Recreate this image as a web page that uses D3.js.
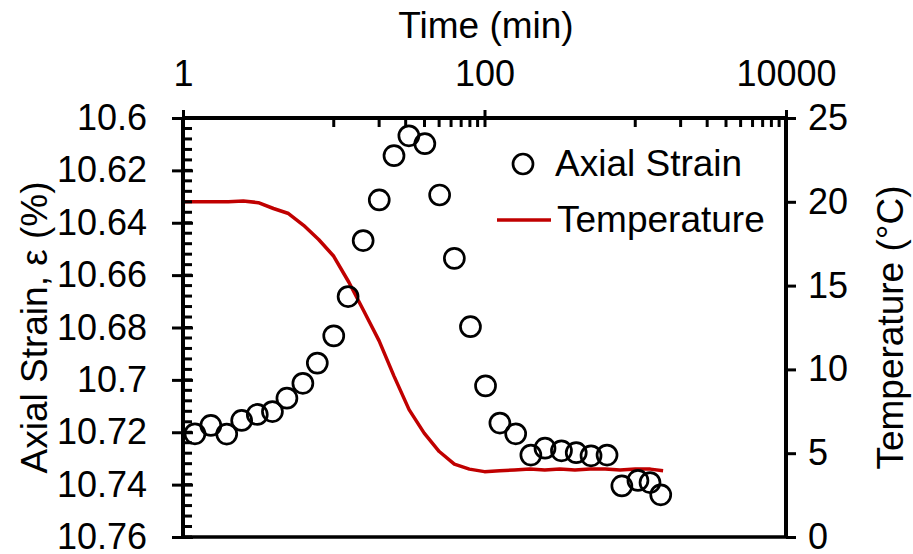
<!DOCTYPE html>
<html>
<head>
<meta charset="utf-8">
<script src="https://cdn.jsdelivr.net/npm/d3@7"></script>
<style>
  html, body { margin: 0; padding: 0; background: #ffffff; }
  svg { display: block; }
  text { font-family: Arial, "Liberation Sans", sans-serif; fill: #000; }
</style>
</head>
<body>
<svg id="chart" width="913" height="554"></svg>
<script>
// Axial strain readings (time in minutes, strain in %)
const strainTime = [1.20, 1.53, 1.95, 2.45, 3.11, 3.92, 4.89, 6.24, 7.78, 10.0,
  12.45, 15.67, 20.04, 25.1, 31.5, 40.2, 50.4, 63.1, 80.7, 101.6,
  126.5, 161, 203, 252, 324, 406, 509, 650, 815, 1042, 1253, 1476];
const strainValue = [10.7206, 10.7174, 10.7207, 10.7155, 10.7132, 10.7121, 10.7070, 10.7013, 10.6936, 10.6832,
  10.6682, 10.6468, 10.6313, 10.6144, 10.6068, 10.6098, 10.6294, 10.6536, 10.6797, 10.7023,
  10.7165, 10.7206, 10.7287, 10.7261, 10.7271, 10.7278, 10.7290, 10.7287, 10.7405, 10.7384, 10.7392, 10.7439];

// Temperature record (time in minutes, °C)
const tempTime = [1, 1.26, 1.58, 2, 2.51, 3.16, 3.98, 5.01, 6.31, 7.94,
  10, 12.6, 15.8, 20, 25.1, 31.6, 39.8, 50.1, 63.1, 79.4,
  100, 126, 158, 200, 251, 316, 398, 501, 631, 794, 1000, 1259, 1530];
const tempValue = [20.0, 20.0, 20.0, 20.0, 20.05, 19.95, 19.6, 19.3, 18.6, 17.75,
  16.75, 15.2, 13.5, 11.7, 9.6, 7.6, 6.2, 5.1, 4.35, 4.05,
  3.9, 3.95, 4.0, 4.05, 4.0, 4.05, 4.0, 4.05, 4.05, 4.0, 4.05, 4.05, 3.95];

// Axis ticks
const timeMajor = [1, 100, 10000];
const timeMinor = [10, 20, 30, 40, 50, 60, 70, 80, 90, 1000, 2000, 3000, 4000, 5000, 6000, 7000, 8000, 9000];
const strainTicks = [10.6, 10.62, 10.64, 10.66, 10.68, 10.7, 10.72, 10.74, 10.76];
const tempTicks = [0, 5, 10, 15, 20, 25];

const svg = d3.select("#chart");
const plotL = 183, plotR = 786, plotT = 118, plotB = 537;
const fsTick = 36;
const fsTitle = 37;
const font = "Arial, 'Liberation Sans', sans-serif";

const x = d3.scaleLog().domain([1, 10000]).range([plotL, plotR]);
const yS = d3.scaleLinear().domain([10.6, 10.76]).range([plotT, plotB]);
const yT = d3.scaleLinear().domain([0, 25]).range([plotB, plotT]);

const red = "#C00000";

// Temperature curve
const line = d3.line().x(d => x(d[0])).y(d => yT(d[1]));
svg.append("path")
  .datum(tempTime.map((t, i) => [t, tempValue[i]]))
  .attr("d", line)
  .attr("fill", "none")
  .attr("stroke", red)
  .attr("stroke-width", 3.5)
  .attr("stroke-linejoin", "round");

// Strain markers
svg.append("g").selectAll("circle")
  .data(strainTime.map((t, i) => [t, strainValue[i]]))
  .join("circle")
  .attr("cx", d => x(d[0]))
  .attr("cy", d => yS(d[1]))
  .attr("r", 10)
  .attr("fill", "none")
  .attr("stroke", "#000")
  .attr("stroke-width", 2.7);

// Bottom frame line
svg.append("line")
  .attr("x1", plotL).attr("x2", plotR).attr("y1", plotB).attr("y2", plotB)
  .attr("stroke", "#000").attr("stroke-width", 3.5);

// Top time axis
const topAxis = svg.append("g").attr("transform", `translate(0,${plotT})`)
  .call(d3.axisTop(x).tickValues(timeMajor).tickFormat(d3.format("d")).tickSizeInner(8).tickSizeOuter(0).tickPadding(24));
topAxis.select(".domain").attr("stroke", "#000").attr("stroke-width", 4)
  .attr("d", `M${plotL},0H${plotR}`);
topAxis.selectAll(".tick line").attr("stroke-width", 3).attr("y2", -8).attr("y1", 9);
topAxis.selectAll(".tick text").attr("font-size", fsTick).attr("font-family", font);
topAxis.selectAll(".minor").data(timeMinor).join("line").attr("class", "minor")
  .attr("x1", d => x(d)).attr("x2", d => x(d)).attr("y1", 0).attr("y2", 9)
  .attr("stroke", "#000").attr("stroke-width", 3);

// Left strain axis
const minorStrain = d3.range(0, 41).map(i => 10.6 + i * 0.004);
const leftAxis = svg.append("g").attr("transform", `translate(${plotL},0)`)
  .call(d3.axisLeft(yS).tickValues(strainTicks).tickFormat(d => String(+d.toFixed(2))).tickSizeInner(11).tickSizeOuter(0).tickPadding(25));
leftAxis.select(".domain").attr("stroke", "#000").attr("stroke-width", 4)
  .attr("d", `M0,${plotT}V${plotB}`);
leftAxis.selectAll(".tick line").attr("stroke-width", 3).attr("x2", -11).attr("x1", 10);
leftAxis.selectAll(".tick text").attr("font-size", fsTick).attr("font-family", font);
leftAxis.selectAll(".minor").data(minorStrain).join("line").attr("class", "minor")
  .attr("x1", 0).attr("x2", 9).attr("y1", d => yS(d)).attr("y2", d => yS(d))
  .attr("stroke", "#000").attr("stroke-width", 3);

// Right temperature axis
const rightAxis = svg.append("g").attr("transform", `translate(${plotR},0)`)
  .call(d3.axisRight(yT).tickValues(tempTicks).tickSizeInner(10).tickSizeOuter(0).tickPadding(12));
rightAxis.select(".domain").attr("stroke", "#000").attr("stroke-width", 4)
  .attr("d", `M0,${plotT}V${plotB}`);
rightAxis.selectAll(".tick line").attr("stroke-width", 3);
rightAxis.selectAll(".tick text").attr("font-size", fsTick).attr("font-family", font);

// Axis titles
svg.append("text").attr("x", 486).attr("y", 38)
  .attr("text-anchor", "middle").attr("font-size", fsTitle).text("Time (min)");
svg.append("text").attr("transform", `translate(47,${(plotT + plotB) / 2}) rotate(-90)`)
  .attr("text-anchor", "middle").attr("font-size", fsTitle).text("Axial Strain, ε (%)");
svg.append("text").attr("transform", `translate(903,${(plotT + plotB) / 2}) rotate(-90)`)
  .attr("text-anchor", "middle").attr("font-size", fsTitle).text("Temperature (°C)");

// Legend
const legend = svg.append("g");
legend.append("circle").attr("cx", 523).attr("cy", 164).attr("r", 10)
  .attr("fill", "none").attr("stroke", "#000").attr("stroke-width", 2.7);
legend.append("text").attr("x", 555).attr("y", 176).attr("font-size", fsTitle).text("Axial Strain");
legend.append("line").attr("x1", 497).attr("x2", 551).attr("y1", 220).attr("y2", 220)
  .attr("stroke", red).attr("stroke-width", 3.5);
legend.append("text").attr("x", 557).attr("y", 232).attr("font-size", fsTitle).text("Temperature");
</script>
</body>
</html>
